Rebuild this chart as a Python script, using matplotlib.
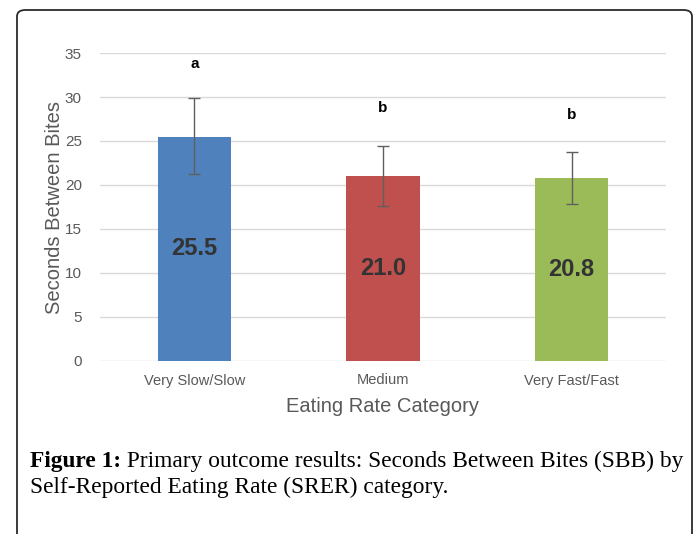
import matplotlib
matplotlib.use("Agg")
import matplotlib.pyplot as plt
from matplotlib.patches import FancyBboxPatch

# ───────── Data ─────────
categories = ['Very Slow/Slow', 'Medium', 'Very Fast/Fast']
sbb_means = [25.5, 21.0, 20.8]
err_low = [4.3, 3.4, 3.0]
err_high = [4.4, 3.4, 3.0]
sig_letters = ['a', 'b', 'b']
letter_y = [33.7, 28.7, 27.9]
bar_colors = ['#4F81BD', '#C0504D', '#9BBB59']

plt.rcParams['font.family'] = ['Liberation Sans', 'DejaVu Sans']

W, H = 695, 534
fig = plt.figure(figsize=(W / 100, H / 100), dpi=100)
fig.patch.set_facecolor('white')

# rounded frame around chart + caption
frame = FancyBboxPatch((17 / W, -0.2), (692 - 17) / W, (H - 10) / H + 0.2 - 1e-9,
                       boxstyle='round,pad=0,rounding_size=0.012',
                       transform=fig.transFigure, facecolor='none',
                       edgecolor='#2b2b2b', linewidth=1.3, clip_on=False)
fig.patches.append(frame)

ax = fig.add_axes([100 / W, 1 - 361 / H, (666 - 100) / W, (361 - 53) / H])
x = range(len(categories))
ax.bar(x, sbb_means, width=0.39, color=bar_colors, zorder=2)
ax.errorbar(x, sbb_means, yerr=[err_low, err_high], fmt='none',
            ecolor='#5f5f5f', elinewidth=1.0, capsize=4, capthick=1.0, zorder=3)

for xi, v in zip(x, sbb_means):
    ax.text(xi, v / 2, f'{v:.1f}', ha='center', va='center', fontsize=17,
            fontweight='bold', color='#333333', zorder=4)
for xi, lt, ly in zip(x, sig_letters, letter_y):
    ax.text(xi, ly, lt, ha='center', va='center', fontsize=11,
            fontweight='bold', color='black')

ax.set_xlim(-0.5, 2.5)
ax.set_ylim(0, 35)
ax.set_yticks(range(0, 36, 5))
ax.set_xticks(list(x))
ax.set_xticklabels(categories, fontsize=10.5, color='#595959')
ax.tick_params(axis='y', labelsize=11, colors='#595959', length=0, pad=13)
ax.tick_params(axis='x', length=0, pad=9)
ax.yaxis.grid(True, color='#d9d9d9', linewidth=1.0, zorder=0)
ax.set_axisbelow(True)
for s in ax.spines.values():
    s.set_visible(False)
ax.set_ylabel('Seconds Between Bites', fontsize=14.5, color='#595959', labelpad=1)
ax.set_xlabel('Eating Rate Category', fontsize=14.5, color='#595959', labelpad=7)

# ───────── Caption ─────────
serif = 'Liberation Serif'
t1 = fig.text(30 / W, 1 - 467 / H, 'Figure 1:', fontsize=16.8, fontweight='bold',
              family=serif, va='baseline')
ax.annotate(' Primary outcome results: Seconds Between Bites (SBB) by',
            xy=(1, 0), xycoords=t1, va='bottom', ha='left',
            fontsize=16.8, family=serif)
fig.text(30 / W, 1 - 493 / H, 'Self-Reported Eating Rate (SRER) category.',
         fontsize=16.8, family=serif, va='baseline')

fig.savefig('out.png', dpi=100)
